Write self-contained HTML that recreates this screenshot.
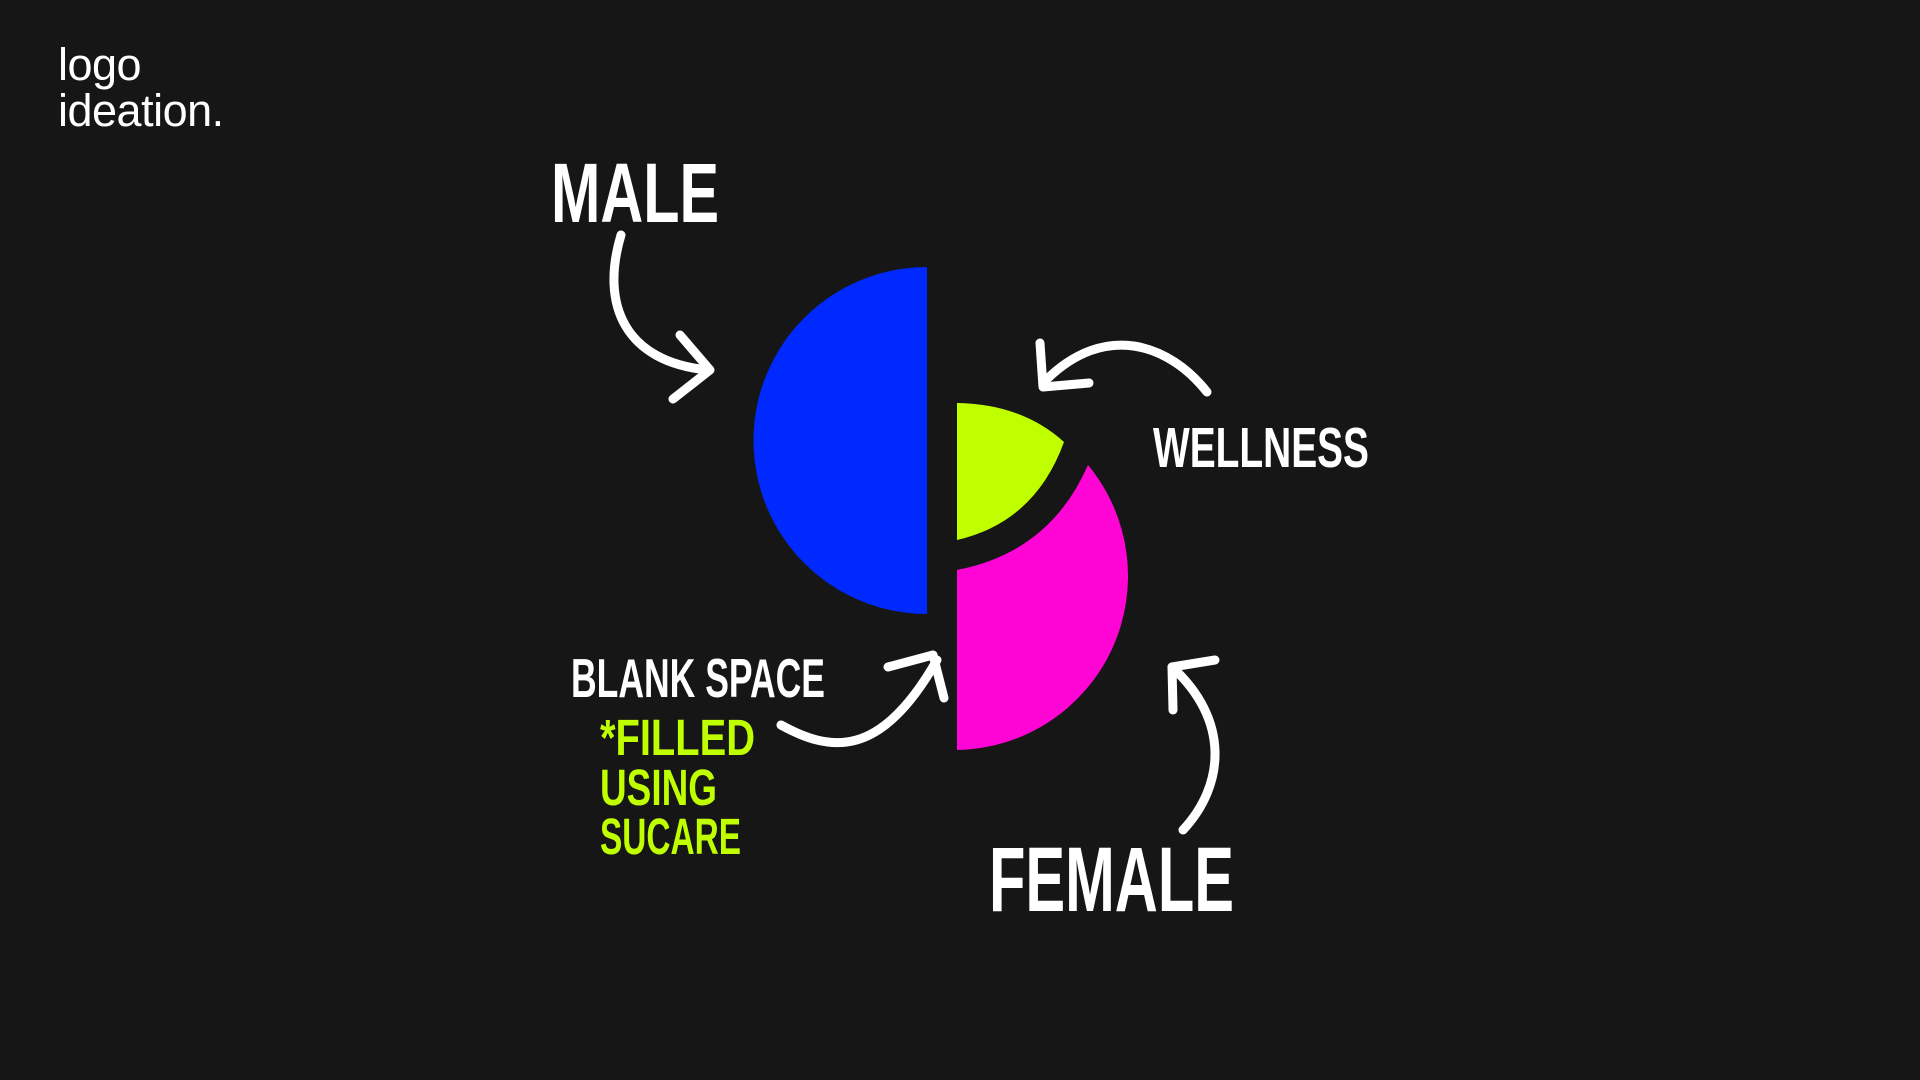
<!DOCTYPE html>
<html><head><meta charset="utf-8"><style>
html,body{margin:0;padding:0;background:#161616;width:1920px;height:1080px;overflow:hidden}
.logo{position:absolute;left:58px;top:42px;color:#fff;font-family:"Liberation Sans",sans-serif;font-size:45px;line-height:46px;letter-spacing:-0.5px}
svg{position:absolute;left:0;top:0}
</style></head><body>
<div class="logo">logo<br>ideation.</div>
<svg width="1920" height="1080" viewBox="0 0 1920 1080">
<path d="M927,267 A173.5,173.5 0 0 0 927,614 Z" fill="#0029ff"/>
<path d="M957,403 Q1022,404 1064,442 Q1035,522 957,540 Z" fill="#bfff00"/>
<path d="M957,570 Q1050,552 1088,465 A174,174 0 0 1 957,750 Z" fill="#ff05d5"/>
<g fill="none" stroke="#fff" stroke-width="9" stroke-linecap="round" stroke-linejoin="round">
<path d="M621,235 C600,305 625,362 708,370"/>
<path d="M680,335 L710,370 L673,399"/>
<path d="M1207,392 C1170,345 1105,320 1044,382"/>
<path d="M1040,343 L1043,387 L1089,383"/>
<path d="M781,725 C830,752 880,760 937,660"/>
<path d="M888,667 L933,655 L944,698"/>
<path d="M1183,830 C1225,785 1230,720 1172,667"/>
<path d="M1173,710 L1172,667 L1215,660"/>
</g>
<g font-family="'Liberation Sans Narrow','Liberation Sans',sans-serif" font-weight="bold" fill="#fff">
<text x="551" y="222" font-size="84" textLength="168" lengthAdjust="spacingAndGlyphs">MALE</text>
<text x="1153" y="467" font-size="57" textLength="216" lengthAdjust="spacingAndGlyphs">WELLNESS</text>
<text x="571" y="697" font-size="55" textLength="254" lengthAdjust="spacingAndGlyphs">BLANK SPACE</text>
<text x="989" y="911" font-size="92" textLength="245" lengthAdjust="spacingAndGlyphs">FEMALE</text>
<g fill="#bfff00">
<text x="600" y="755" font-size="51" textLength="155" lengthAdjust="spacingAndGlyphs">*FILLED</text>
<text x="600" y="805" font-size="51" textLength="117" lengthAdjust="spacingAndGlyphs">USING</text>
<text x="600" y="854" font-size="51" textLength="141" lengthAdjust="spacingAndGlyphs">SUCARE</text>
</g>
</g>
</svg>
</body></html>
